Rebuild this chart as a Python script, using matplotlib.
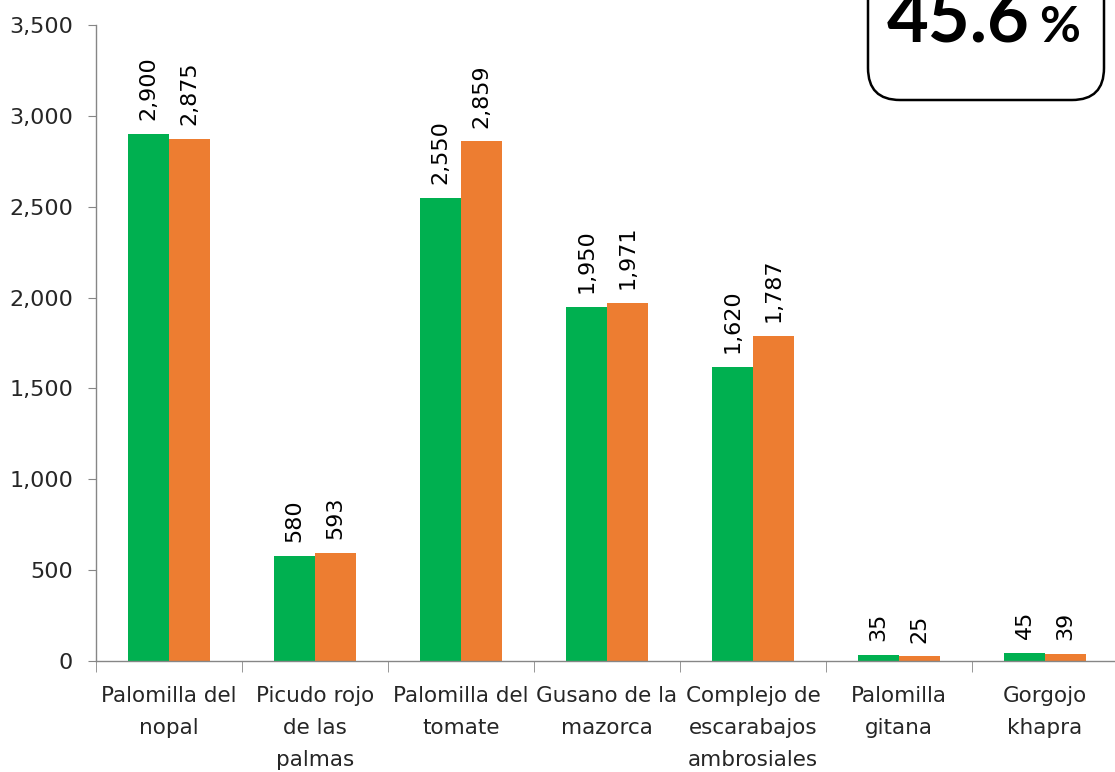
import matplotlib
matplotlib.use("Agg")
import matplotlib.pyplot as plt
from matplotlib.patches import FancyBboxPatch
import numpy as np

categories = ["Palomilla del\nnopal", "Picudo rojo\nde las\npalmas", "Palomilla del\ntomate",
              "Gusano de la\nmazorca", "Complejo de\nescarabajos\nambrosiales", "Palomilla\ngitana",
              "Gorgojo\nkhapra"]
green_vals = [2900, 580, 2550, 1950, 1620, 35, 45]
orange_vals = [2875, 593, 2859, 1971, 1787, 25, 39]
yticks = [0, 500, 1000, 1500, 2000, 2500, 3000, 3500]
box_value = "45.6"

GREEN = "#00B050"
ORANGE = "#ED7D31"
GRAY = "#868686"
TXT = "#262626"

W, H = 1115, 772
fig = plt.figure(figsize=(W / 100, H / 100), dpi=100)
ax = fig.add_axes([96 / W, 1 - 661 / H, 1022 / W, 636 / H])

x = np.arange(len(categories))
bw = 0.28
ax.bar(x - bw / 2, green_vals, bw, color=GREEN, zorder=2)
ax.bar(x + bw / 2, orange_vals, bw, color=ORANGE, zorder=2)

for xi, v in zip(x - bw / 2, green_vals):
    ax.annotate(f"{v:,}", (xi, v), xytext=(0, 10), textcoords="offset points",
                rotation=90, ha="center", va="bottom", fontsize=16, color="black")
for xi, v in zip(x + bw / 2, orange_vals):
    ax.annotate(f"{v:,}", (xi, v), xytext=(0, 10), textcoords="offset points",
                rotation=90, ha="center", va="bottom", fontsize=16, color="black")

ax.set_xlim(-0.5, len(categories) - 0.5)
ax.set_ylim(0, 3500)
ax.set_yticks(yticks)
ax.set_yticklabels([f"{t:,}" for t in yticks], fontsize=16, color=TXT)
ax.tick_params(axis="y", length=6, color=GRAY, pad=10.5)

ax.set_xticks(x)
ax.set_xticklabels(categories, fontsize=15.5, color=TXT, linespacing=1.75, va="top")
ax.tick_params(axis="x", which="major", length=0, pad=18)
ax.set_xticks(np.arange(len(categories) + 1) - 0.5, minor=True)
ax.tick_params(axis="x", which="minor", length=8, color=GRAY, direction="out")

for s in ["top", "right"]:
    ax.spines[s].set_visible(False)
for s in ["left", "bottom"]:
    ax.spines[s].set_color(GRAY)
    ax.spines[s].set_linewidth(1)

box = FancyBboxPatch((8.68, 6.72), 11.04 - 8.68, 2.0,
                     boxstyle="round,pad=0,rounding_size=0.32",
                     transform=fig.dpi_scale_trans, facecolor="white",
                     edgecolor="black", linewidth=1.8, clip_on=False, zorder=5)
fig.add_artist(box)
fig.text(8.87, 7.30, box_value, transform=fig.dpi_scale_trans, fontsize=52,
         fontweight="bold", family="Lato", ha="left", va="baseline", zorder=6)
fig.text(10.39, 7.30, "%", transform=fig.dpi_scale_trans, fontsize=36,
         fontweight="bold", family="Lato", ha="left", va="baseline", zorder=6)

fig.savefig("out.png", dpi=100)
